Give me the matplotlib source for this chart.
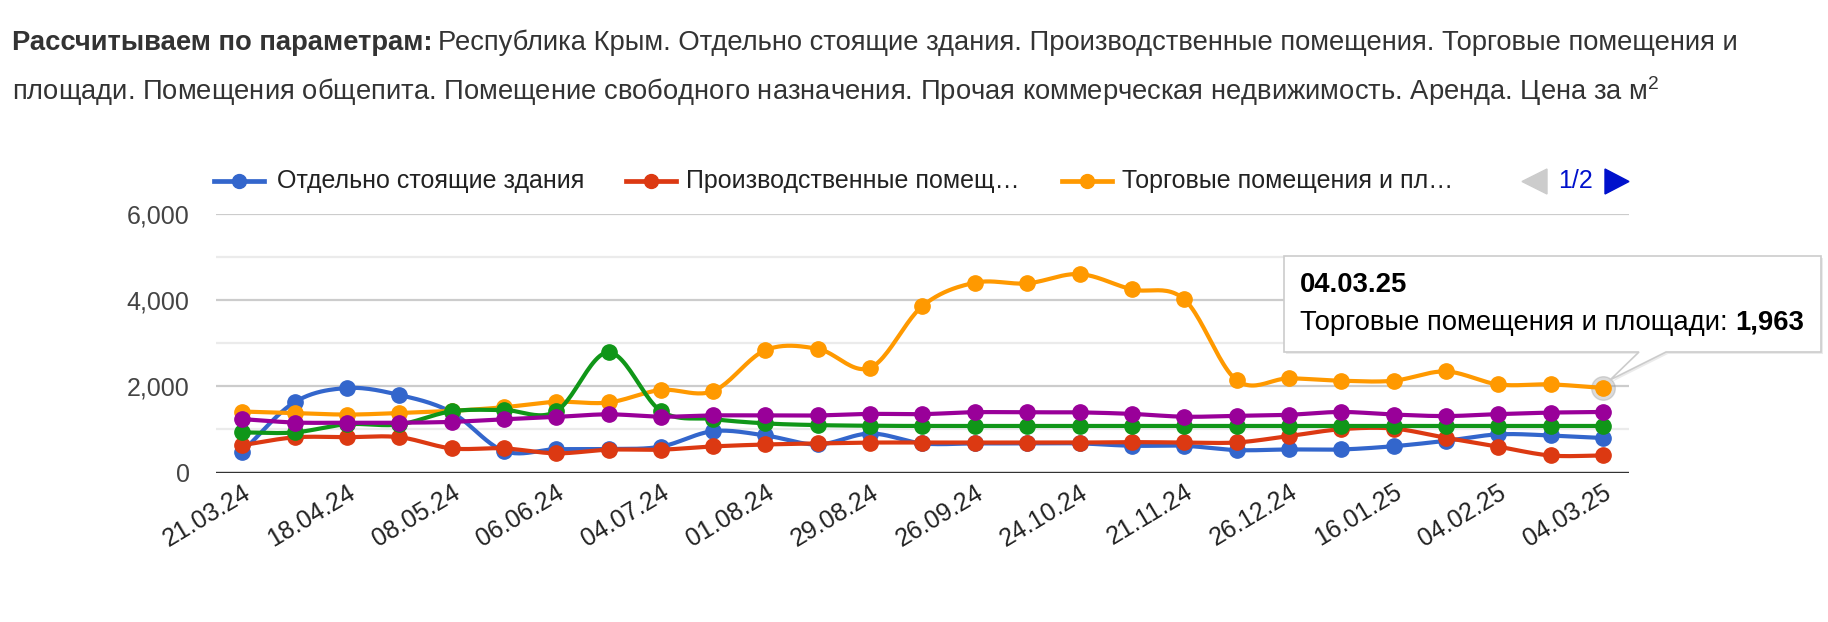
import matplotlib.pyplot as plt
from matplotlib.lines import Line2D
from matplotlib.patches import Polygon
import numpy as np

plt.rcParams['font.family'] = ['Liberation Sans', 'DejaVu Sans']
plt.rcParams['mathtext.fontset'] = 'custom'
plt.rcParams['mathtext.rm'] = 'Liberation Sans'

# --- data ---
tick_labels = ['21.03.24', '18.04.24', '08.05.24', '06.06.24', '04.07.24', '01.08.24', '29.08.24',
               '26.09.24', '24.10.24', '21.11.24', '26.12.24', '16.01.25', '04.02.25', '04.03.25']

names = ['Отдельно стоящие здания', 'Производственные помещения', 'Торговые помещения и площади',
         'Помещения общепита', 'Помещение свободного назначения']
legend_short = ['Отдельно стоящие здания', 'Производственные помещ…', 'Торговые помещения и пл…']
colors = ['#3366cc', '#dc3912', '#ff9900', '#109618', '#990099']

blue = [480, 1630, 1960, 1800, 1400, 500, 540, 545, 600, 960, 860, 650, 905, 675,
        675, 675, 675, 620, 620, 520, 535, 535, 610, 735, 885, 860, 800]
red = [635, 815, 820, 820, 560, 560, 445, 530, 530, 605, 650, 675, 695, 695,
       695, 695, 695, 705, 697, 697, 845, 1005, 1020, 805, 600, 395, 395]
orange = [1415, 1380, 1345, 1380, 1430, 1515, 1640, 1625, 1915, 1890, 2840, 2870, 2430, 3865,
          4405, 4390, 4605, 4250, 4020, 2145, 2185, 2130, 2130, 2345, 2045, 2045, 1963]
green = [930, 930, 1120, 1115, 1420, 1450, 1420, 2790, 1430, 1240, 1140, 1100, 1085, 1080,
         1080, 1080, 1080, 1080, 1080, 1080, 1080, 1080, 1080, 1080, 1080, 1080, 1080]
purple = [1240, 1160, 1155, 1155, 1175, 1235, 1290, 1350, 1295, 1325, 1325, 1325, 1360, 1355,
          1400, 1395, 1395, 1360, 1295, 1315, 1340, 1405, 1345, 1310, 1355, 1390, 1405]
series = [blue, red, orange, green, purple]

W, H = 1828, 622


def fx(x):
    return x / W


def fy(y):
    return 1 - y / H


def smooth(xs, ys, n=25):
    # catmull-rom style curve like google's curveType: 'function'
    xs = np.asarray(xs, float)
    ys = np.asarray(ys, float)
    m = np.zeros_like(ys)
    m[1:-1] = (ys[2:] - ys[:-2]) / 2
    m[0] = ys[1] - ys[0]
    m[-1] = ys[-1] - ys[-2]
    t = np.linspace(0, 1, n)
    h00 = 2*t**3 - 3*t**2 + 1
    h10 = t**3 - 2*t**2 + t
    h01 = -2*t**3 + 3*t**2
    h11 = t**3 - t**2
    px, py = [], []
    for i in range(len(ys) - 1):
        px.append(xs[i] + t * (xs[i+1] - xs[i]))
        py.append(h00*ys[i] + h10*m[i] + h01*ys[i+1] + h11*m[i+1])
    return np.concatenate(px), np.concatenate(py)


fig = plt.figure(figsize=(W/100, H/100), dpi=100)
ax = fig.add_axes([fx(216), fy(472.5), (1629-216)/W, (472.5-214)/H])

x = np.arange(len(blue))
for i, (ys, c) in enumerate(zip(series, colors)):
    sx, sy = smooth(x, ys)
    ax.plot(sx, sy, color=c, lw=3, zorder=3 + i, clip_on=False, solid_capstyle='round')
    ax.plot(x, ys, 'o', color=c, ms=11, zorder=3 + i, clip_on=False)

# hovered point
ax.plot(x[-1], orange[-1], 'o', ms=17, color='#999999', alpha=0.35, zorder=2.5, clip_on=False)

ax.set_xlim(-0.5, 26.5)
ax.set_ylim(0, 6000)
ax.set_yticks([0, 2000, 4000, 6000])
ax.set_yticklabels(['{:,}'.format(v) for v in [0, 2000, 4000, 6000]])
ax.set_yticks([1000, 3000, 5000], minor=True)
ax.grid(axis='y', which='major', color='#cccccc', lw=1.6)
ax.grid(axis='y', which='minor', color='#ebebeb', lw=1.6)
ax.axhline(0, color='#333333', lw=2.4, zorder=2)
ax.set_axisbelow(True)
for s in ax.spines.values():
    s.set_visible(False)

ax.set_xticks(x[::2])
ax.set_xticklabels(tick_labels, rotation=31, ha='right', rotation_mode='anchor')
ax.tick_params(axis='x', length=0, pad=5.5, labelsize=18, labelcolor='#222222')
ax.tick_params(axis='y', which='both', length=0, pad=19, labelsize=18, labelcolor='#444444')

# title
fs_title = 19.7
t1 = fig.text(fx(12), fy(43), 'Рассчитываем по параметрам:', fontsize=fs_title, fontweight='bold',
              color='#333333', va='center', ha='left')
r = fig.canvas.get_renderer()
bw = t1.get_window_extent(r).width
fig.text(fx(12 + bw + 6), fy(43),
         'Республика Крым. Отдельно стоящие здания. Производственные помещения. Торговые помещения и',
         fontsize=fs_title, color='#333333', va='center', ha='left')
fig.text(fx(12), fy(91),
         'площади. Помещения общепита. Помещение свободного назначения. Прочая коммерческая недвижимость. '
         'Аренда. Цена за м$^{2}$',
         fontsize=fs_title, color='#333333', va='center', ha='left')

# legend (page 1 of 2)
leg_y = 181
for (x0, tx), lab, c in zip([(214, 277), (626, 686), (1062, 1122)], legend_short, colors):
    fig.add_artist(Line2D([fx(x0), fx(x0 + 50)], [fy(leg_y), fy(leg_y)], color=c, lw=3.4,
                          transform=fig.transFigure))
    fig.add_artist(Line2D([fx(x0 + 25)], [fy(leg_y)], marker='o', ms=10, color=c,
                          transform=fig.transFigure))
    fig.text(fx(tx), fy(leg_y), lab, fontsize=18, color='#222222', va='center', ha='left')

fig.add_artist(Polygon([(fx(1547), fy(169)), (fx(1547), fy(194)), (fx(1522), fy(181.5))],
                       closed=True, color='#cccccc', transform=fig.transFigure))
fig.text(fx(1575), fy(181), '1/2', fontsize=18, color='#0011cc', va='center', ha='center')
fig.add_artist(Polygon([(fx(1605), fy(169)), (fx(1605), fy(194)), (fx(1629), fy(181.5))],
                       closed=True, color='#0011cc', transform=fig.transFigure))

# tooltip
tip = [(1284, 256), (1821, 256), (1821, 352), (1666, 352), (1610, 380), (1639, 352), (1284, 352)]
shadow = [(fx(a + 2), fy(b + 2)) for a, b in tip]
fig.add_artist(Polygon(shadow, closed=True, facecolor='#000000', alpha=0.08, edgecolor='none',
                       transform=fig.transFigure, zorder=20))
fig.add_artist(Polygon([(fx(a), fy(b)) for a, b in tip], closed=True, facecolor='white',
                       edgecolor='#cccccc', lw=1.2, transform=fig.transFigure, zorder=21))
fig.text(fx(1300), fy(285), '04.03.25', fontsize=19.8, fontweight='bold', color='#000000',
         va='center', ha='left', zorder=22)
t2 = fig.text(fx(1300), fy(323), names[2] + ': ', fontsize=19.8, color='#000000',
              va='center', ha='left', zorder=22)
w2 = t2.get_window_extent(r).width
fig.text(fx(1300 + w2), fy(323), '{:,}'.format(orange[-1]), fontsize=19.8, fontweight='bold',
         color='#000000', va='center', ha='left', zorder=22)

fig.savefig('out.png', dpi=100, facecolor='white')
